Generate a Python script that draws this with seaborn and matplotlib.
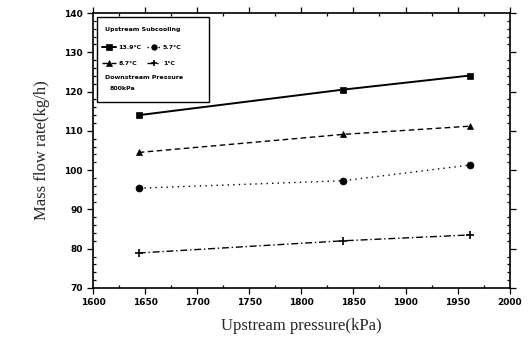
import pandas as pd
import matplotlib.pyplot as plt
import seaborn as sns
from matplotlib.patches import Rectangle
from matplotlib.ticker import MultipleLocator

# values
pressure = [1644, 1840, 1962]
sub_139 = [114.0, 120.5, 124.1]
sub_57 = [95.4, 97.3, 101.3]
sub_87 = [104.5, 109.1, 111.2]
sub_1 = [78.9, 82.0, 83.5]
labels = ["13.9\u00b0C", "5.7\u00b0C", "8.7\u00b0C", "1\u00b0C"]

rows = []
for lab, vals in zip(labels, [sub_139, sub_57, sub_87, sub_1]):
    for p, v in zip(pressure, vals):
        rows.append({"pressure": p, "flow": v, "sub": lab})
df = pd.DataFrame(rows)

sns.set_style("ticks", {"axes.edgecolor": "black", "xtick.color": "black",
                        "ytick.color": "black", "text.color": "black"})
plt.rcParams['font.family'] = ['DejaVu Sans']

fig = plt.figure(figsize=(5.31, 3.44), dpi=100)
ax = fig.add_axes([0.175, 0.163, 0.785, 0.799])

markers = {labels[0]: "s", labels[1]: "o", labels[2]: "^", labels[3]: "P"}
dashes = {labels[0]: "", labels[1]: (1, 3), labels[2]: (4, 2.5), labels[3]: (5, 2, 1, 2)}
sns.lineplot(data=df, x="pressure", y="flow", hue="sub", style="sub",
             palette=["black"] * 4, markers=markers, dashes=dashes,
             markersize=5, linewidth=1.0, ax=ax, legend=False)

lines = {}
for line, lab in zip(ax.get_lines(), labels):
    line.set_markeredgecolor("black")
    line.set_markeredgewidth(0.5)
    if line.get_marker() == "P":
        line.set_marker("+")
        line.set_markersize(6)
        line.set_markeredgewidth(1.2)
    if line.get_marker() == "s":
        line.set_linewidth(1.4)
    lines[lab] = line

ax.set_xlim(1600, 2000)
ax.set_ylim(70, 140)
ax.xaxis.set_major_locator(MultipleLocator(50))
ax.xaxis.set_minor_locator(MultipleLocator(25))
ax.yaxis.set_major_locator(MultipleLocator(10))
ax.yaxis.set_minor_locator(MultipleLocator(2))
ax.tick_params(which="both", top=True, right=True, labelsize=6.5, width=0.9)
ax.tick_params(which="major", length=4)
ax.tick_params(which="minor", length=2, direction="in")
for lab in ax.get_xticklabels() + ax.get_yticklabels():
    lab.set_fontweight("bold")
for s in ax.spines.values():
    s.set_linewidth(1.2)

ax.set_xlabel("Upstream pressure(kPa)", family="Liberation Serif", fontsize=12, labelpad=8)
ax.set_ylabel("Mass flow rate(kg/h)", family="Liberation Serif", fontsize=12, labelpad=10)

# legend block (column-first fill: 13.9, 8.7 | 5.7, 1)
order = [labels[0], labels[2], labels[1], labels[3]]
leg = ax.legend([lines[k] for k in order], order, ncol=2, frameon=False,
                loc="upper left", bbox_to_anchor=(0.015, 0.895),
                handlelength=2.2, columnspacing=0.8, labelspacing=1.7,
                handletextpad=0.4, borderpad=0, markerscale=0.8,
                prop={"weight": "bold", "size": 4.5})
ax.add_patch(Rectangle((0.01, 0.676), 0.268, 0.309, transform=ax.transAxes,
                       fill=False, lw=1.0, ec="black"))
ax.text(0.03, 0.942, "Upstream Subcooling", transform=ax.transAxes,
        fontsize=4.5, fontweight="bold", va="center")
ax.text(0.03, 0.764, "Downstream Pressure", transform=ax.transAxes,
        fontsize=4.5, fontweight="bold", va="center")
ax.text(0.04, 0.724, "800kPa", transform=ax.transAxes,
        fontsize=4.5, fontweight="bold", va="center")

fig.savefig("out.png", dpi=100)
